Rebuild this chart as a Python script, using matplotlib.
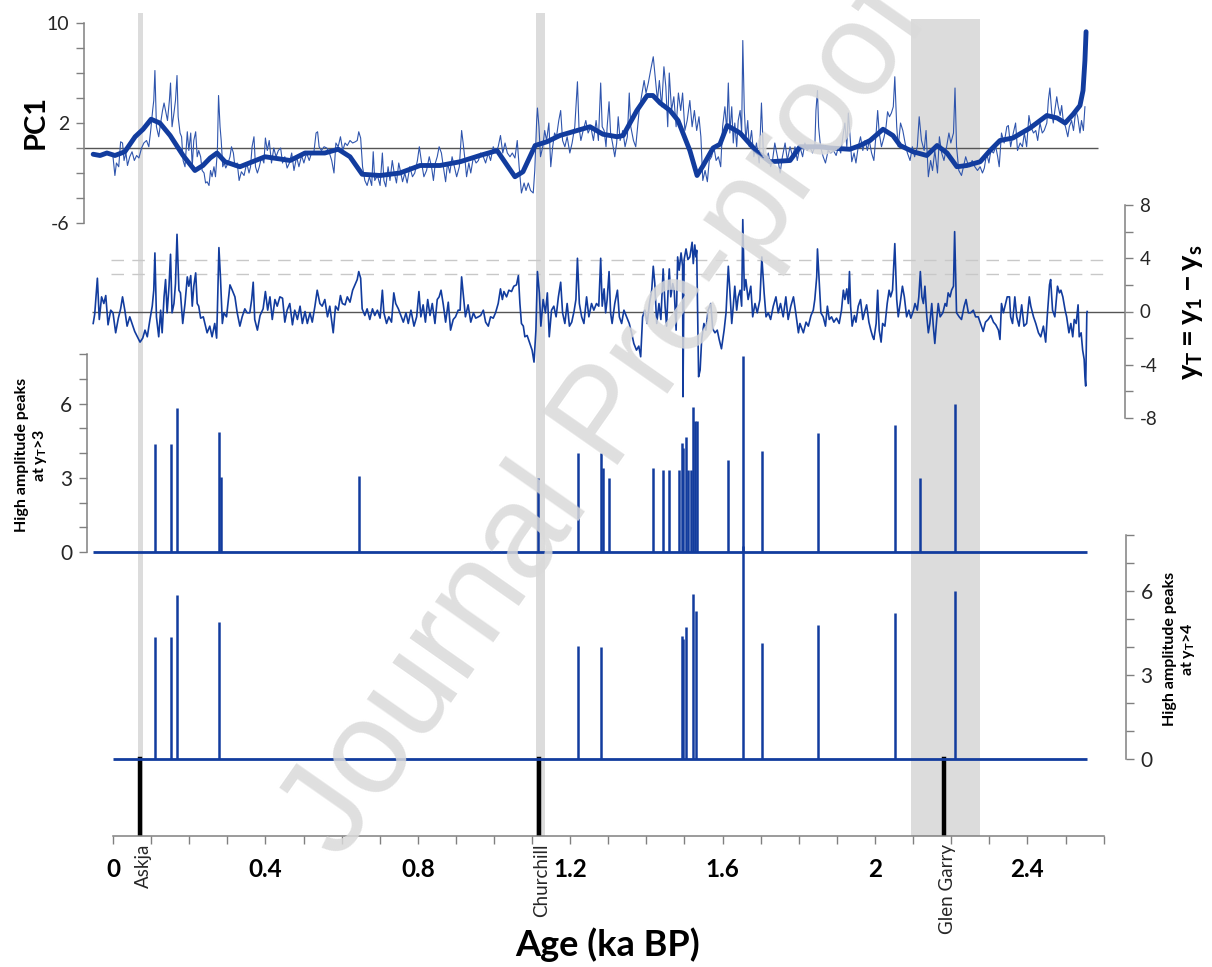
import numpy as np
import matplotlib
matplotlib.use('Agg')
import matplotlib.pyplot as plt
import matplotlib.transforms as mtransforms

plt.rcParams['font.family'] = ['Lato', 'DejaVu Sans']
plt.rcParams['mathtext.fontset'] = 'custom'
plt.rcParams['mathtext.rm'] = 'Lato'
plt.rcParams['mathtext.it'] = 'Lato'
plt.rcParams['mathtext.bf'] = 'Lato:bold'

# ---------------- data (age in years BP) ----------------
pc1_raw = [
    (0, -0.7), (5, -2.2), (9, -1.2), (15, -1.5), (20, 0.5), (25, 0.4), (29, -1.0), (34, -0.4),
    (38, -1.4), (44, -0.7), (50, -0.3), (56, -1.0), (62, -0.6), (68, -0.8), (75, 0.0), (81, 0.4),
    (88, 0.6), (94, 0.1), (99, 1.4), (104, 3.0), (107, 3.8), (110, 6.2), (114, 1.7), (120, 0.9),
    (125, 2.0), (130, 3.0), (134, 3.6), (139, 2.8), (143, 2.2), (148, 3.8), (151, 5.2), (155, 1.7),
    (160, 2.8), (164, 3.8), (168, 5.8), (171, 2.5), (176, 1.2), (180, 0.9), (184, -1.0), (189, -1.5),
    (195, 1.3), (199, -0.2), (204, 1.2), (208, -1.5), (212, 0.6), (217, 1.3), (221, -0.7), (225, -0.2),
    (230, -0.7), (234, -1.8), (239, -2.0), (243, -2.8), (247, -2.7), (252, -3.0), (256, -1.8), (260, -2.3),
    (265, -1.5), (269, -2.3), (274, -0.2), (277, 4.2), (281, 1.7), (284, 0.6), (288, -1.5), (292, -1.2),
    (296, -1.6), (302, -1.2), (307, -0.7), (311, 0.1), (316, -0.4), (320, -1.5), (326, -1.2), (331, -2.6),
    (337, -1.9), (344, -2.2), (351, -1.2), (357, -2.0), (361, -1.5), (365, 0.1), (370, 0.9), (374, -1.5),
    (379, -2.0), (384, -1.5), (390, -0.7), (396, -1.2), (400, 0.8), (405, -0.2), (410, 0.6), (416, -1.2),
    (422, 0.0), (428, -0.7), (434, -0.2), (440, 0.0), (445, -1.2), (451, -0.7), (457, -1.6), (463, -1.2),
    (469, -0.4), (475, -1.8), (482, -0.7), (488, -1.5), (495, -0.6), (501, -1.2), (508, -0.4), (515, -1.0),
    (521, -0.4), (527, -0.4), (533, 1.2), (537, 1.3), (541, 0.1), (547, -0.2), (554, 0.1), (561, 0.0),
    (568, -0.4), (574, -1.0), (580, -2.0), (585, 0.4), (591, 0.1), (597, 0.9), (603, -0.2), (609, 0.4),
    (615, 0.2), (622, 0.6), (629, 0.4), (636, 0.5), (641, 0.6), (645, 1.3), (650, 0.8), (655, -1.5),
    (661, -2.6), (667, -3.0), (673, -2.3), (679, -3.0), (683, -0.3), (687, -2.6), (694, -2.2), (701, -3.0),
    (707, -0.4), (711, -2.6), (716, -3.1), (722, -1.5), (727, -2.6), (733, -1.0), (737, -1.8), (744, -2.8),
    (750, -1.2), (760, -2.7), (766, -2.0), (772, -2.8), (779, -1.5), (786, -2.3), (792, -2.0), (799, -1.0),
    (804, 0.1), (810, -1.2), (816, -2.3), (823, -1.8), (830, -0.7), (836, -1.5), (841, -2.6), (846, -1.2),
    (851, -0.7), (856, 0.1), (862, -0.4), (867, -1.5), (873, -2.7), (878, -1.2), (884, -2.0), (890, -0.7),
    (896, -1.5), (902, -2.3), (909, -1.5), (915, 1.4), (919, 0.4), (924, -1.0), (928, -2.3), (934, -1.2),
    (939, -2.0), (946, -0.7), (953, -1.2), (959, -1.0), (965, -0.4), (972, -0.7), (978, -1.2), (985, -0.4),
    (991, -1.0), (998, 0.1), (1004, -0.4), (1011, 0.1), (1017, 1.0), (1023, -0.4), (1029, 0.4), (1035, -0.4),
    (1042, -0.7), (1048, -0.4), (1055, -0.8), (1061, 0.6), (1066, -1.5), (1072, -3.6), (1079, -2.8), (1084, -3.4),
    (1090, -2.8), (1096, -3.4), (1103, -3.6), (1107, -1.8), (1112, 2.2), (1114, 3.2), (1118, 1.7), (1122, -0.7),
    (1128, 0.1), (1133, 1.4), (1138, 0.6), (1144, 2.0), (1149, -1.5), (1154, 0.1), (1159, 1.2), (1164, 0.9),
    (1170, 2.2), (1175, 3.0), (1180, 0.6), (1186, 0.1), (1192, 0.9), (1199, -0.4), (1205, 0.4), (1212, 1.7),
    (1219, 5.3), (1223, 1.7), (1228, 0.6), (1234, 1.4), (1241, 2.2), (1247, 1.2), (1254, 1.7), (1261, 0.6),
    (1268, 2.2), (1274, 0.6), (1280, 5.2), (1284, 1.7), (1289, 1.4), (1294, 0.1), (1297, 1.7), (1302, 3.7),
    (1306, 1.2), (1311, 0.4), (1317, -0.7), (1322, 0.4), (1326, 2.5), (1331, 0.6), (1338, 1.4), (1344, 0.1),
    (1350, 0.9), (1355, 4.4), (1359, 1.7), (1366, 0.6), (1372, 0.1), (1377, 1.7), (1381, 3.0), (1387, 4.1),
    (1394, 5.4), (1399, 4.4), (1405, 5.2), (1411, 6.2), (1418, 7.3), (1422, 6.0), (1429, 3.8), (1434, 5.4),
    (1440, 3.3), (1446, 6.5), (1451, 4.9), (1456, 1.7), (1460, 6.0), (1466, 3.0), (1472, 4.1), (1478, 1.7),
    (1484, 4.4), (1490, 3.0), (1495, 4.4), (1501, 1.4), (1507, 2.2), (1514, 3.8), (1520, 1.7), (1526, 3.0),
    (1532, 1.4), (1538, 2.5), (1543, 0.9), (1548, -2.6), (1554, -1.8), (1560, -2.7), (1565, -1.0), (1571, -0.7),
    (1577, 0.1), (1583, -1.0), (1589, -0.7), (1595, -1.5), (1600, 1.7), (1606, 3.3), (1611, 1.4), (1615, 5.2),
    (1619, 1.2), (1624, 3.3), (1628, 0.4), (1632, 2.0), (1637, 0.1), (1641, 2.2), (1646, 3.0), (1650, 1.2),
    (1653, 8.6), (1657, 3.0), (1661, 0.6), (1666, 2.2), (1670, 0.1), (1676, 1.4), (1682, -0.7), (1689, 0.4),
    (1696, -1.2), (1702, 3.6), (1707, -0.4), (1713, -1.0), (1720, -0.4), (1726, -1.5), (1731, -1.0), (1737, 0.4),
    (1744, -0.7), (1751, -2.0), (1757, -0.7), (1764, 0.4), (1770, -1.0), (1777, 0.1), (1784, -0.7), (1790, 0.1),
    (1796, -1.0), (1803, 0.1), (1810, -0.7), (1816, 0.4), (1822, -0.2), (1829, 0.1), (1836, -0.4), (1842, 0.1),
    (1845, 3.0), (1849, 4.6), (1852, 1.7), (1857, 0.1), (1864, -0.7), (1870, -1.2), (1877, -0.2), (1884, -0.4),
    (1891, -0.2), (1898, -0.6), (1904, 0.1), (1910, -0.4), (1917, 1.2), (1921, 2.0), (1926, 0.1), (1930, 2.8),
    (1934, 1.2), (1939, -1.1), (1945, -0.4), (1950, -1.2), (1956, 0.1), (1962, 0.9), (1968, -0.2), (1974, 0.6),
    (1980, -0.2), (1985, 0.6), (1991, -0.4), (1997, -1.0), (2003, 1.2), (2007, 3.0), (2011, 1.2), (2017, 0.1),
    (2024, 0.9), (2029, 1.7), (2033, 2.9), (2038, 2.5), (2043, 2.8), (2048, 3.3), (2052, 5.7), (2057, 1.7),
    (2061, 0.1), (2067, 2.0), (2073, 1.4), (2079, 0.4), (2085, -0.4), (2092, -1.0), (2098, 0.1), (2104, -0.7),
    (2111, 0.1), (2116, 2.5), (2122, 0.6), (2129, -0.2), (2134, 1.4), (2140, -2.3), (2146, -1.0), (2151, -1.8),
    (2157, -0.2), (2164, -2.0), (2169, 0.9), (2175, -0.4), (2181, -1.0), (2188, 0.1), (2194, 1.2), (2199, 0.4),
    (2206, 1.2), (2210, 4.8), (2214, 0.1), (2220, -1.8), (2227, -2.2), (2232, -1.5), (2238, -0.7), (2243, -1.2),
    (2249, -1.5), (2255, -1.0), (2262, -1.5), (2269, -1.8), (2276, -1.5), (2282, -2.0), (2287, -1.6), (2293, -0.4),
    (2299, -1.2), (2304, -0.2), (2311, -0.4), (2317, 0.1), (2322, -0.7), (2326, -1.5), (2332, 1.2), (2339, 0.4),
    (2346, 1.7), (2350, 1.8), (2356, 0.1), (2363, 1.2), (2369, 2.0), (2374, -0.2), (2381, 0.4), (2387, 0.1),
    (2392, 1.2), (2398, 0.1), (2404, 2.6), (2409, 1.7), (2416, 1.2), (2422, 1.4), (2427, 0.6), (2433, 2.0),
    (2439, 1.2), (2444, 1.4), (2451, 2.0), (2455, 3.8), (2459, 4.8), (2464, 2.8), (2468, 2.0), (2472, 3.0),
    (2477, 4.1), (2481, 3.3), (2486, 2.6), (2490, 3.4), (2494, 2.2), (2500, 1.7), (2506, 0.9), (2510, 1.7),
    (2516, 2.2), (2521, 1.4), (2527, 3.0), (2532, 2.5), (2538, 1.2), (2542, 2.2), (2547, 1.4), (2551, 3.3),
]

pc1_smooth = [
    (-52, -0.5), (-34, -0.6), (-16, -0.4), (5, -0.6), (31, -0.3), (58, 0.9), (79, 1.5), (100, 2.3),
    (123, 2.0), (150, 1.0), (184, -0.6), (215, -1.8), (236, -1.4), (255, -0.8), (273, -0.4), (294, -1.1),
    (333, -1.5), (399, -0.7), (465, -1.0), (504, -0.4), (556, -0.4), (591, -0.1), (622, -0.7), (654, -2.1),
    (701, -2.2), (753, -2.0), (806, -1.4), (858, -1.4), (911, -1.1), (963, -0.6), (1008, -0.2), (1037, -1.5),
    (1055, -2.3), (1076, -1.9), (1108, 0.2), (1139, 0.5), (1173, 1.0), (1218, 1.4), (1252, 1.7), (1286, 1.1),
    (1323, 0.9), (1339, 1.0), (1375, 3.0), (1402, 4.2), (1417, 4.2), (1436, 3.6), (1462, 3.0), (1483, 2.2),
    (1514, -0.2), (1533, -2.2), (1549, -1.4), (1575, 0.0), (1593, 0.3), (1612, 1.8), (1646, 1.2), (1690, -0.3),
    (1724, -1.1), (1777, -1.0), (1803, 0.1), (1856, 0.1), (1882, 0.0), (1934, -0.1), (1961, 0.2), (1987, 0.6),
    (2021, 1.5), (2047, 1.0), (2066, 0.2), (2100, -0.3), (2136, -0.6), (2163, 0.2), (2189, -0.4), (2215, -1.5),
    (2241, -1.4), (2276, -1.1), (2302, -0.2), (2328, 0.6), (2362, 0.8), (2407, 1.6), (2451, 2.6), (2478, 2.4),
    (2499, 2.0), (2520, 2.7), (2538, 3.4), (2546, 4.6), (2551, 7.0), (2554, 9.3),
]

y_t = [
    (-52, -0.9), (-48, -0.2), (-41, 2.5), (-36, -0.6), (-30, 1.1), (-24, 0.6), (-19, 1.2), (-13, -1.0),
    (-6, 0.1), (0, -0.1), (7, -1.6), (14, -0.5), (20, 0.2), (25, 1.1), (31, 0.1), (37, -1.1),
    (44, -0.4), (50, -0.9), (57, -1.5), (64, -1.9), (71, -2.3), (78, -2.0), (84, -1.4), (90, -1.9),
    (97, -0.6), (103, 0.4), (107, 1.6), (110, 4.4), (114, -0.4), (120, -1.9), (125, 0.1), (129, -1.6),
    (134, 1.1), (138, 2.4), (142, -0.1), (147, 1.9), (151, 4.3), (155, -0.1), (160, 0.6), (164, 2.1),
    (168, 5.8), (173, 1.6), (177, 1.4), (183, -0.9), (189, 0.6), (195, 2.6), (199, 1.9), (204, 2.7),
    (208, 0.4), (212, 1.9), (217, 2.9), (221, 0.6), (225, 0.4), (230, -0.5), (237, -0.4), (243, -1.1),
    (247, -1.6), (254, -1.1), (260, -1.9), (267, -0.9), (272, -2.0), (274, 0.1), (278, 4.8), (282, 2.6),
    (287, -0.9), (291, -0.1), (298, -0.4), (307, 2.0), (313, 1.6), (320, 1.1), (326, -0.1), (333, -1.1),
    (339, -0.4), (346, 0.2), (352, -0.1), (359, -0.1), (364, 0.9), (368, 2.2), (372, -0.6), (379, -1.4),
    (386, -0.3), (394, 0.2), (400, 1.5), (406, 0.1), (412, 1.1), (418, -0.6), (425, 0.9), (431, 0.4),
    (438, 1.1), (445, 1.0), (451, -0.8), (457, 0.1), (464, 0.6), (471, -1.0), (477, 0.1), (484, -0.6),
    (491, 0.4), (497, -0.9), (504, 0.0), (510, -0.9), (517, -0.1), (523, -0.8), (530, 0.4), (536, 1.6),
    (543, 0.6), (549, 0.4), (556, 0.9), (563, -0.4), (569, 0.4), (578, -1.6), (584, 0.4), (591, 0.1),
    (597, 1.2), (602, 0.6), (609, 0.5), (615, 1.1), (622, 0.7), (629, 1.6), (635, 2.0), (641, 2.4),
    (645, 3.0), (650, 2.5), (654, 0.2), (661, -0.3), (667, 0.2), (674, -0.6), (681, 0.2), (687, -0.3),
    (694, 0.1), (701, -0.5), (707, 1.6), (711, -0.1), (718, -0.9), (724, -0.4), (731, -0.8), (737, 1.4),
    (742, 0.6), (749, 0.2), (762, -0.8), (769, -0.1), (775, -0.9), (782, 0.1), (790, -1.1), (797, -0.4),
    (803, 1.5), (808, -0.4), (814, 0.5), (820, -0.8), (826, 0.9), (832, -0.3), (838, 0.6), (845, -0.9),
    (851, 0.9), (856, 1.1), (861, 1.6), (867, 0.5), (873, -0.8), (880, 0.7), (886, -1.4), (893, -0.6),
    (899, -0.4), (906, 0.1), (911, 0.1), (915, 2.6), (919, 1.4), (925, -0.4), (932, 0.5), (939, -0.8),
    (946, -0.1), (952, -0.5), (959, -0.4), (965, -0.3), (972, 0.1), (978, -0.8), (985, -1.1), (991, -0.4),
    (998, -0.5), (1004, -0.1), (1011, 0.6), (1017, 1.7), (1022, 0.9), (1026, 1.5), (1033, 1.1), (1039, 1.6),
    (1046, 1.5), (1052, 1.9), (1059, 2.0), (1064, 2.7), (1068, 0.6), (1072, -0.9), (1077, -1.1), (1081, -1.9),
    (1087, -1.8), (1094, -2.4), (1100, -2.9), (1105, -3.8), (1110, -1.4), (1114, 3.0), (1119, 1.4), (1123, -1.1),
    (1129, 0.9), (1135, -0.1), (1140, 1.4), (1145, -1.9), (1151, 0.1), (1157, 0.4), (1163, -0.4), (1169, 1.1),
    (1175, 2.2), (1180, -0.1), (1186, -0.9), (1192, 0.6), (1198, -1.1), (1204, -0.8), (1210, 0.0), (1215, 0.9),
    (1219, 4.0), (1224, 0.6), (1230, -0.4), (1236, -0.9), (1243, 1.1), (1249, -0.4), (1256, 0.6), (1262, 0.1),
    (1269, 0.6), (1275, 0.4), (1280, 4.0), (1284, 0.4), (1289, 1.7), (1293, -0.1), (1297, 0.9), (1302, 3.0),
    (1306, -0.1), (1310, -0.9), (1317, 0.6), (1324, 1.6), (1329, -0.4), (1335, -0.9), (1341, 0.1), (1348, -0.4),
    (1355, -0.9), (1361, -1.6), (1367, -2.4), (1374, -2.9), (1380, -2.6), (1385, -3.4), (1390, -0.4), (1396, 0.1),
    (1402, -0.9), (1408, 0.6), (1414, 1.6), (1418, 3.4), (1422, 2.1), (1427, -0.9), (1433, 0.6), (1438, -0.6),
    (1444, 3.2), (1449, 0.4), (1453, -1.1), (1457, 1.6), (1460, 3.2), (1464, 1.1), (1469, 2.1), (1473, 1.6),
    (1478, -1.4), (1482, 4.1), (1486, 3.1), (1491, 4.4), (1495, 3.4), (1496, -6.4), (1499, 3.9), (1504, 4.7),
    (1509, 3.9), (1514, 4.1), (1520, 5.2), (1523, 3.6), (1527, 5.0), (1530, 4.1), (1532, 4.6), (1537, -4.9),
    (1541, -4.4), (1545, -2.1), (1551, -0.9), (1556, -1.4), (1562, 0.1), (1569, 0.6), (1574, -1.3), (1580, -1.6),
    (1586, -1.4), (1591, -2.1), (1597, -2.8), (1604, -1.4), (1609, -0.1), (1615, 3.4), (1619, 1.6), (1624, -0.9),
    (1628, 0.4), (1632, 1.9), (1637, 0.1), (1641, 1.1), (1646, 1.6), (1650, 0.4), (1653, 6.9), (1657, 1.6),
    (1661, 2.4), (1667, 0.9), (1674, 1.9), (1679, -0.4), (1685, 0.6), (1691, -0.1), (1698, 0.9), (1703, 4.1),
    (1709, 1.4), (1714, -0.4), (1720, -0.1), (1726, -0.6), (1733, 0.4), (1740, 1.1), (1746, -0.1), (1752, 0.6),
    (1759, -0.4), (1766, 1.1), (1772, -0.6), (1779, 0.4), (1786, 1.1), (1792, -0.1), (1799, -1.6), (1803, -0.9),
    (1812, -1.6), (1819, -0.8), (1825, -1.1), (1832, -0.3), (1838, 0.1), (1842, 0.9), (1847, 2.6), (1849, 4.7),
    (1854, 2.1), (1858, -0.1), (1864, -0.4), (1870, -1.1), (1875, 0.4), (1880, -0.6), (1886, -0.4), (1892, -0.8),
    (1899, -0.5), (1906, -0.9), (1912, 0.1), (1917, 1.6), (1921, 0.9), (1926, 1.7), (1930, 0.6), (1933, 3.0),
    (1936, 0.4), (1940, -1.1), (1946, -0.3), (1950, -0.8), (1956, 0.4), (1962, 0.9), (1968, -0.6), (1974, 0.1),
    (1978, 0.5), (1984, -0.8), (1989, -1.4), (1994, -1.9), (1997, -2.1), (2003, -0.9), (2007, 1.6), (2011, -1.4),
    (2016, -2.3), (2020, -0.9), (2026, -1.1), (2032, 0.6), (2037, 1.6), (2041, 1.1), (2046, 1.6), (2052, 5.1),
    (2057, 0.9), (2061, -0.4), (2066, 0.6), (2072, 1.9), (2077, 1.1), (2083, -0.4), (2089, 0.1), (2094, -0.5),
    (2101, 0.1), (2105, 0.6), (2111, 0.1), (2115, 1.1), (2119, 3.0), (2123, 1.1), (2127, 0.6), (2131, 1.9),
    (2136, -0.4), (2140, -1.6), (2144, -0.9), (2149, 0.6), (2153, -1.1), (2157, -2.4), (2162, -0.6), (2166, 0.6),
    (2171, -0.4), (2178, -0.1), (2184, 0.6), (2188, 0.4), (2192, 1.4), (2197, 1.1), (2201, 1.6), (2206, 1.9),
    (2209, 6.0), (2214, -0.1), (2221, -0.4), (2227, -0.6), (2234, 0.4), (2239, 0.9), (2245, -0.1), (2251, -0.1),
    (2258, 0.1), (2264, -0.4), (2271, -0.4), (2277, -0.9), (2284, -1.5), (2290, -0.8), (2297, -0.6), (2304, -0.3),
    (2311, -0.8), (2317, -1.0), (2324, -1.4), (2328, -2.1), (2332, 0.6), (2337, -0.1), (2343, 0.6), (2347, 1.1),
    (2353, 1.1), (2356, -0.4), (2361, -0.9), (2367, 1.1), (2372, -0.4), (2378, -1.1), (2385, 0.5), (2391, -1.1),
    (2398, -0.9), (2405, 1.1), (2409, 0.4), (2416, -0.4), (2422, -0.9), (2429, -1.6), (2435, -1.9), (2442, -1.1),
    (2448, -2.3), (2452, -0.4), (2458, 2.0), (2461, 2.4), (2466, 0.1), (2472, -0.4), (2479, 1.9), (2484, 1.4),
    (2488, 1.6), (2493, 1.1), (2499, 0.1), (2503, -0.4), (2509, -1.6), (2514, -0.9), (2519, -1.9), (2523, -0.6),
    (2528, -0.9), (2533, 0.5), (2536, -1.9), (2541, -1.6), (2545, -2.9), (2549, -3.6), (2551, -4.9), (2553, -5.6),
    (2556, -0.1), (2557, 0.0),
]
yt_dash_levels = [3.9, 2.8]

peaks3_age = [110, 152, 168, 278, 283, 646, 1115, 1220, 1281, 1286, 1302, 1417, 1444, 1459, 1486,
              1493, 1496, 1504, 1509, 1517, 1522, 1528, 1533, 1614, 1654, 1703, 1850, 2052, 2118, 2210]
peaks3_h = [4.35, 4.35, 5.8, 4.85, 3.05, 3.06, 3.0, 4.0, 4.0, 3.4, 3.0, 3.4, 3.3, 3.3, 3.3,
            4.4, 4.2, 4.65, 3.3, 3.3, 5.85, 5.3, 5.3, 3.7, 7.9, 4.1, 4.8, 5.15, 3.0, 6.0]

peaks4_age = [110, 152, 168, 278, 1220, 1281, 1493, 1496, 1504, 1522, 1530, 1654, 1703, 1850, 2052, 2210]
peaks4_h = [4.35, 4.35, 5.85, 4.9, 4.05, 4.0, 4.4, 4.3, 4.7, 5.9, 5.3, 7.6, 4.15, 4.8, 5.2, 6.0]

tephra_names = ['Askja', 'Churchill', 'Glen Garry']
tephra_age = [0.071, 1.117, 2.181]
grey_lines = [(0.0645, 0.0775), (1.109, 1.133)]
grey_band = (2.094, 2.276)

# ---------------- layout ----------------
W, H = 1212, 967
X0, PXK = 113, 381.0      # pixel of age 0 and pixels per ka
BLUE = '#123c9e'
THIN = '#2f55ad'
GREY = '#808080'
TXT = '#262626'

fig = plt.figure(figsize=(W / 100, H / 100), dpi=100)


def panel(left, right, top, bottom):
    ax = fig.add_axes([left / W, 1 - bottom / H, (right - left) / W, (bottom - top) / H])
    ax.set_xlim((left - X0) / PXK, (right - X0) / PXK)
    ax.patch.set_alpha(0)
    for s in ax.spines.values():
        s.set_visible(False)
    ax.set_xticks([])
    return ax


def style_y(ax, side, ticks, labels, size):
    ax.spines[side].set_visible(True)
    ax.spines[side].set_color(GREY)
    ax.spines[side].set_linewidth(1.1)
    if side == 'right':
        ax.yaxis.tick_right()
    ax.set_yticks(ticks)
    ax.set_yticklabels(labels)
    ax.tick_params(axis='y', direction='out', length=5.5, width=1, color=GREY,
                   labelsize=size, labelcolor=TXT, pad=5)


to_ka = lambda a: np.asarray(a, dtype=float) / 1000.0

# background axis: tephra markers and the age axis
base = panel(X0, X0 + 2.6 * PXK, 0, 836)
base.set_ylim(0, 1)
for a, b in grey_lines:
    base.axvspan(a, b, ymin=0, ymax=0.984, color='#dcdcdc', lw=0, zorder=0)
base.axvspan(grey_band[0], grey_band[1], ymin=0, ymax=0.977, color='#dcdcdc', lw=0, zorder=0)
for name, a in zip(tephra_names, tephra_age):
    base.axvline(a, ymin=0, ymax=0.092, color='black', lw=3.2, zorder=1)
    base.text(a + 0.008, -0.009, name, rotation=90, ha='center', va='top', fontsize=13.5,
              color=TXT, transform=mtransforms.blended_transform_factory(base.transData, base.transAxes))
base.spines['bottom'].set_visible(True)
base.spines['bottom'].set_color(GREY)
base.spines['bottom'].set_linewidth(1.1)
base.set_xticks(np.arange(0, 2.41, 0.4))
base.set_xticks(np.arange(0, 2.61, 0.1), minor=True)
base.set_xticklabels(['0', '0.4', '0.8', '1.2', '1.6', '2', '2.4'], fontweight='bold')
base.tick_params(axis='x', which='both', direction='out', length=6, width=1, color=GREY,
                 labelsize=17.5, labelcolor='black', pad=10)
base.set_yticks([])

# PC1
ax1 = panel(84, 1126, 23, 223)
ax1.set_ylim(-6, 10)
style_y(ax1, 'left', np.arange(-6, 11, 2), ['-6', '', '', '', '2', '', '', '', '10'], 14)
ax1.hlines(0, ax1.get_xlim()[0], 2.585, color='#555555', lw=1.0)
pa, pv = np.array(pc1_raw).T
ax1.plot(to_ka(pa), pv, color=THIN, lw=0.8)
sa, sv = np.array(pc1_smooth).T
ax1.plot(to_ka(sa), sv, color=BLUE, lw=3.5, solid_joinstyle='round', solid_capstyle='round')

# yT = y1 - ys
ax2 = panel(84, 1125, 205, 418)
ax2.set_ylim(-8, 8)
style_y(ax2, 'right', np.arange(-8, 9, 2), ['-8', '', '-4', '', '0', '', '4', '', '8'], 13.5)
ax2.hlines(0, -0.055, ax2.get_xlim()[1], color='#555555', lw=1.0)
for lev in yt_dash_levels:
    ax2.hlines(lev, -0.005, 2.617, color='#c8c8c8', lw=1.0, linestyles=(0, (9, 6)))
ta, tv = np.array(y_t).T
ax2.plot(to_ka(ta), tv, color=BLUE, lw=1.2)

# peaks above 3
ax3 = panel(87, 1126, 354, 552)
ax3.set_ylim(0, 8)
style_y(ax3, 'left', np.arange(0, 9, 1), ['0', '', '', '3', '', '', '6', '', ''], 15)
ax3.hlines(0, -0.052, 2.556, color=BLUE, lw=2.0, clip_on=False)
ax3.vlines(to_ka(peaks3_age), 0, peaks3_h, color=BLUE, lw=1.8, clip_on=False)

# peaks above 4
ax4 = panel(84, 1126, 535, 759)
ax4.set_ylim(0, 8)
style_y(ax4, 'right', np.arange(0, 9, 1), ['0', '', '', '3', '', '', '6', '', ''], 15)
ax4.hlines(0, 0.0, 2.556, color=BLUE, lw=2.0, clip_on=False)
ax4.vlines(to_ka(peaks4_age), 0, peaks4_h, color=BLUE, lw=1.8, clip_on=False)

# axis titles
fig.text(36 / W, 1 - 122 / H, 'PC1', rotation=90, fontsize=21, fontweight='bold',
         ha='center', va='center', color='black')
fig.text(1192 / W, 1 - 312 / H, r'$\mathbf{y_T = y_1 - y_s}$', rotation=90, fontsize=21,
         ha='center', va='center', color='black')
fig.text(32 / W, 1 - 455 / H, 'High amplitude peaks\nat $\\mathbf{y_T}$>3', rotation=90,
         fontsize=11.5, fontweight='bold', ha='center', va='center', multialignment='center')
fig.text(1180 / W, 1 - 649 / H, 'High amplitude peaks\nat $\\mathbf{y_T}$>4', rotation=90,
         fontsize=11.5, fontweight='bold', ha='center', va='center', multialignment='center')
fig.text(608 / W, 1 - 945 / H, 'Age (ka BP)', fontsize=26, fontweight='bold',
         ha='center', va='center', color='black')

# watermark (runs off the top edge, as in the original)
fig.text(607 / W, 1 - 420 / H, 'Journal Pre-proof', rotation=55, fontsize=96,
         family='Liberation Sans', color='#dadada', alpha=0.85, ha='center', va='center', zorder=10)

fig.savefig('out.png', dpi=100, facecolor='white')
